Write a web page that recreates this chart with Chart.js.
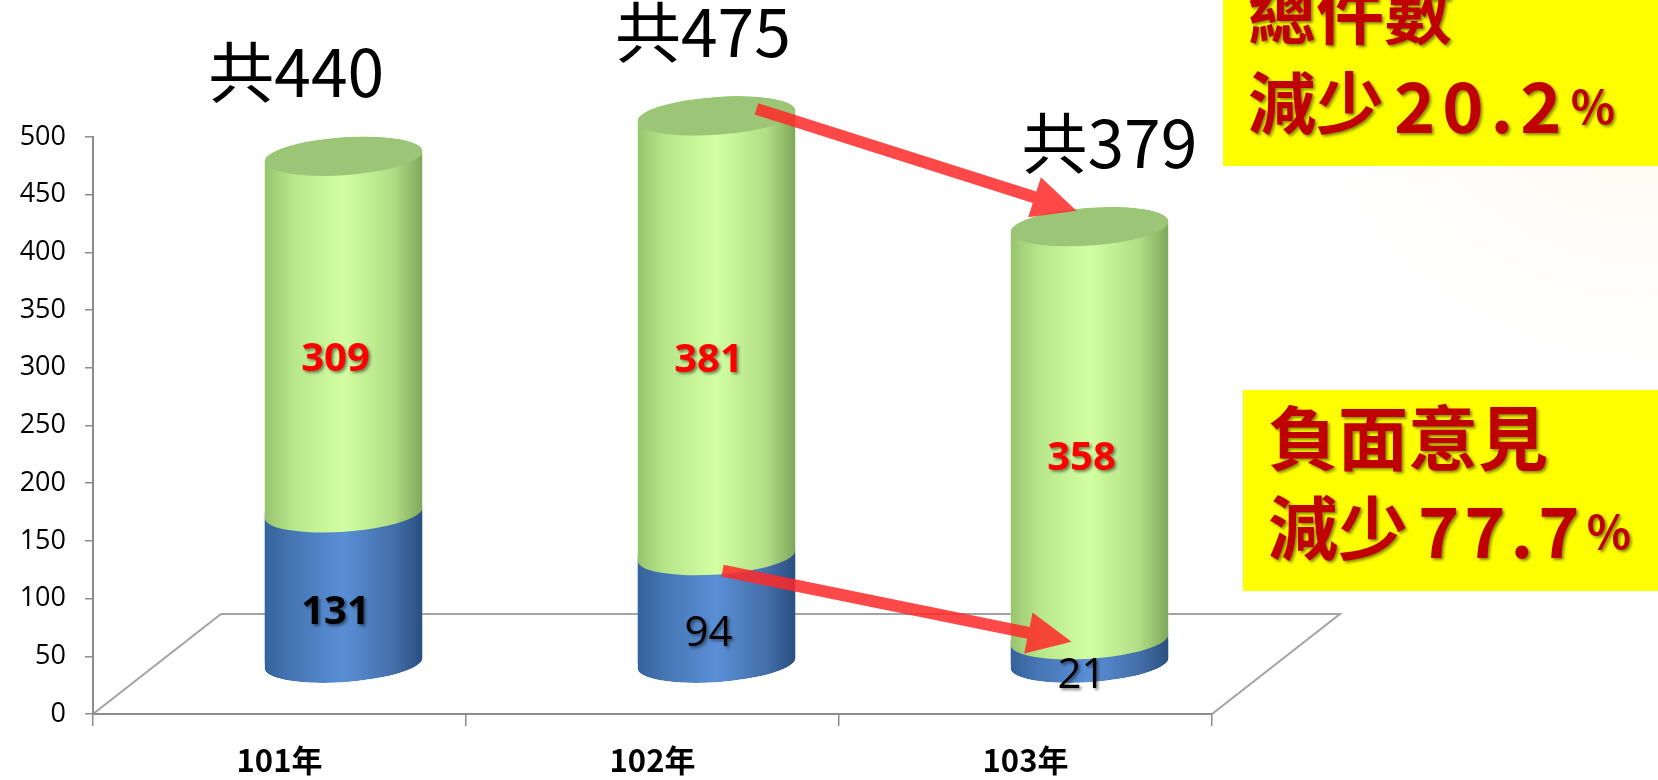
<!DOCTYPE html>
<html>
<head>
<meta charset="utf-8">
<script src="https://cdn.jsdelivr.net/npm/chart.js@4.4.1/dist/chart.umd.min.js"></script>
<style>
  html, body { margin: 0; padding: 0; background: #fff; }
  #wrap { width: 1658px; height: 780px; }
</style>
</head>
<body>
<div id="wrap"><canvas id="chart" width="1658" height="780"></canvas></div>
<script>
// data
const years = ['101年', '102年', '103年'];
const negative = [131, 94, 21];   // blue, 負面意見
const others = [309, 381, 358];   // green
const yMin = 0, yMax = 500, yStep = 50;
const totalNote = ['總件數', '減少', '20.2'];
const negativeNote = ['負面意見', '減少', '77.7'];

const totals = years.map((_, i) => negative[i] + others[i]);

// 3d look
const DX = 64, DY = -50, TILT = -0.07, BAR_PCT = 0.424, FLAT = 0.24;
const CJK = '"Noto Sans CJK TC", "Noto Sans", sans-serif';
const blueStops = [[0, '#35629a'], [0.18, '#4676b4'], [0.5, '#5a8fd6'], [0.82, '#436ea8'], [1, '#2a4f80']];
const greenStops = [[0, '#98c36f'], [0.18, '#b7e68a'], [0.5, '#d3ffa2'], [0.82, '#b0dc84'], [1, '#7fa65a']];

function sideFill(ctx, cx, w, stops) {
  if (!isFinite(cx) || !isFinite(w) || w <= 0) return stops[2][1];
  const g = ctx.createLinearGradient(cx - w / 2, 0, cx + w / 2, 0);
  stops.forEach(([o, c]) => g.addColorStop(o, c));
  return g;
}

// outline of one cylinder segment: sides, lower half of the base, upper half of the top
function segmentPath(ctx, cx, yTop, yBase, rx) {
  const ex = rx * Math.cos(TILT), ey = rx * Math.sin(TILT);
  ctx.moveTo(cx - ex, yTop - ey);
  ctx.lineTo(cx - ex, yBase - ey);
  ctx.ellipse(cx, yBase, rx, rx * FLAT, TILT, Math.PI, 0, true);
  ctx.lineTo(cx + ex, yTop + ey);
  ctx.ellipse(cx, yTop, rx, rx * FLAT, TILT, 0, -Math.PI, true);
  ctx.closePath();
}

function arrow(ctx, x1, y1, x2, y2) {
  const ang = Math.atan2(y2 - y1, x2 - x1);
  const len = Math.hypot(x2 - x1, y2 - y1);
  const head = 44, half = 21, shaft = 6;
  ctx.save();
  ctx.translate(x1, y1);
  ctx.rotate(ang);
  ctx.beginPath();
  ctx.moveTo(0, -shaft);
  ctx.lineTo(len - head, -shaft);
  ctx.lineTo(len - head, -half);
  ctx.lineTo(len, 0);
  ctx.lineTo(len - head, half);
  ctx.lineTo(len - head, shaft);
  ctx.lineTo(0, shaft);
  ctx.closePath();
  ctx.fillStyle = 'rgba(255, 40, 40, 0.85)';
  ctx.fill();
  ctx.restore();
}

function shadowText(ctx, text, x, y, font, color, align, spacing) {
  ctx.save();
  ctx.font = font;
  ctx.fillStyle = color;
  ctx.textAlign = align || 'center';
  ctx.textBaseline = 'middle';
  if (spacing) ctx.letterSpacing = spacing + 'px';
  ctx.shadowColor = 'rgba(0, 0, 0, 0.45)';
  ctx.shadowOffsetX = 2;
  ctx.shadowOffsetY = 2;
  ctx.shadowBlur = 3;
  ctx.fillText(text, x, y);
  const w = ctx.measureText(text).width;
  ctx.restore();
  return w;
}

function note(ctx, box, lines, y1, y2, size, spacing) {
  ctx.save();
  ctx.fillStyle = '#ffff00';
  ctx.fillRect(box[0], box[1], box[2], box[3]);
  const x = box[0] + 25;
  const font = 'bold ' + size + 'px ' + CJK;
  const red = '#c00000';
  shadowText(ctx, lines[0], x, y1, font, red, 'left');
  let cur = x + shadowText(ctx, lines[1], x, y2, font, red, 'left') + 10;
  cur += shadowText(ctx, lines[2], cur, y2 + 3, 'bold 70px ' + CJK, red, 'left', spacing);
  shadowText(ctx, '%', cur + 2, y2 + 4, 'bold 46px ' + CJK, red, 'left');
  ctx.restore();
}

const cylinders = {
  id: 'cylinders',
  beforeDraw(chart) {
    const { ctx, chartArea: a } = chart;
    ctx.save();
    ctx.fillStyle = '#fff';
    ctx.fillRect(0, 0, chart.width, chart.height);
    const glow = ctx.createRadialGradient(1650, 0, 10, 1650, 0, 420);
    glow.addColorStop(0, 'rgba(248, 236, 200, 0.55)');
    glow.addColorStop(1, 'rgba(255, 255, 255, 0)');
    ctx.fillStyle = glow;
    ctx.fillRect(1200, 0, 458, 420);
    // floor
    ctx.strokeStyle = '#a3a3a3';
    ctx.lineWidth = 2;
    ctx.beginPath();
    ctx.moveTo(a.left, a.bottom);
    ctx.lineTo(a.left + 2 * DX, a.bottom + 2 * DY);
    ctx.lineTo(a.right + 2 * DX, a.bottom + 2 * DY);
    ctx.lineTo(a.right, a.bottom);
    ctx.stroke();
    ctx.restore();
  },
  beforeDatasetsDraw(chart) {
    const ctx = chart.ctx;
    const low = chart.getDatasetMeta(0).data;
    const high = chart.getDatasetMeta(1).data;
    ctx.save();
    ctx.translate(DX, DY);
    // keep the library's bars inside the cylinder outlines
    ctx.beginPath();
    low.forEach((bar, i) => segmentPath(ctx, bar.x, high[i].y, bar.base, bar.width / 2));
    ctx.clip();
  },
  afterDatasetsDraw(chart) {
    const ctx = chart.ctx;
    const low = chart.getDatasetMeta(0).data;
    const high = chart.getDatasetMeta(1).data;
    low.forEach((bar, i) => {
      const top = high[i];
      const r = bar.width / 2;
      ctx.beginPath();
      segmentPath(ctx, bar.x, bar.y, bar.base, r);
      ctx.fillStyle = sideFill(ctx, bar.x, bar.width, blueStops);
      ctx.fill();
      ctx.beginPath();
      segmentPath(ctx, top.x, top.y, top.base, r);
      ctx.fillStyle = sideFill(ctx, top.x, top.width, greenStops);
      ctx.fill();
      ctx.beginPath();
      ctx.ellipse(top.x, top.y, r, r * FLAT, TILT, 0, Math.PI * 2);
      ctx.fillStyle = '#9cc577';
      ctx.fill();
    });
    ctx.restore();
  },
  afterDraw(chart) {
    const ctx = chart.ctx;
    const x = chart.scales.x;
    const low = chart.getDatasetMeta(0).data;
    const high = chart.getDatasetMeta(1).data;

    // arrows from 102 to 103
    const a = high[1], b = high[2];
    arrow(ctx, a.x + DX + 40, a.y + DY - 7, b.x + DX - 13, b.y + DY - 16);
    arrow(ctx, a.x + DX + 6, a.base + DY + 15, b.x + DX - 18, b.base + DY + 2);

    low.forEach((bar, i) => {
      const top = high[i];
      const cx = bar.x + DX;
      // segment values
      shadowText(ctx, String(others[i]), cx - 8, (top.y + top.base) / 2 + DY / 2,
        'bold 40px "Open Sans", sans-serif', '#ff0000');
      const blueFont = i === 0 ? 'bold 40px "Open Sans", sans-serif' : '42px "Open Sans", sans-serif';
      shadowText(ctx, String(negative[i]), cx - 8, (bar.y + bar.base) / 2 + DY / 2, blueFont, '#000');
      // totals above
      const lx = x.getPixelForValue(i);
      ctx.save();
      ctx.font = '66px ' + CJK;
      ctx.fillStyle = '#000';
      ctx.textAlign = 'center';
      ctx.textBaseline = 'middle';
      ctx.fillText('共' + totals[i], lx + (lx - chart.chartArea.left) * 0.09, top.y + DY - 84);
      ctx.restore();
    });

    note(ctx, [1223, 0, 435, 166], totalNote, 13, 103, 68, 7);
    note(ctx, [1243, 390, 415, 201], negativeNote, 438, 528, 70, 5);
  }
};

new Chart(document.getElementById('chart'), {
  type: 'bar',
  data: {
    labels: years,
    datasets: [
      { label: '負面意見', data: negative, backgroundColor: '#4a7fc0' },
      { label: '其他', data: others, backgroundColor: '#c4f394' }
    ]
  },
  options: {
    responsive: false,
    animation: false,
    events: [],
    layout: { padding: { top: 137, right: 446, bottom: 0, left: 0 } },
    datasets: {
      bar: { categoryPercentage: 1, barPercentage: BAR_PCT, borderWidth: 0, clip: false }
    },
    plugins: {
      legend: { display: false },
      tooltip: { enabled: false }
    },
    scales: {
      x: {
        stacked: true,
        afterFit(scale) { scale.height = 66; },
        grid: { offset: true, drawOnChartArea: false, tickLength: 12, color: '#8c8c8c', lineWidth: 1.5 },
        border: { color: '#8c8c8c', width: 2 },
        ticks: {
          color: '#000',
          padding: 16,
          font: { family: '"Noto Sans CJK TC", sans-serif', size: 31, weight: 'bold' }
        }
      },
      y: {
        stacked: true,
        min: yMin,
        max: yMax,
        afterFit(scale) { scale.width = 93; },
        grid: { drawOnChartArea: false, tickLength: 8, color: '#8c8c8c', lineWidth: 1.5 },
        border: { color: '#8c8c8c', width: 2 },
        ticks: {
          stepSize: yStep,
          color: '#000',
          padding: 19,
          font: { family: '"Open Sans", sans-serif', size: 27 }
        }
      }
    }
  },
  plugins: [cylinders]
});
</script>
</body>
</html>
